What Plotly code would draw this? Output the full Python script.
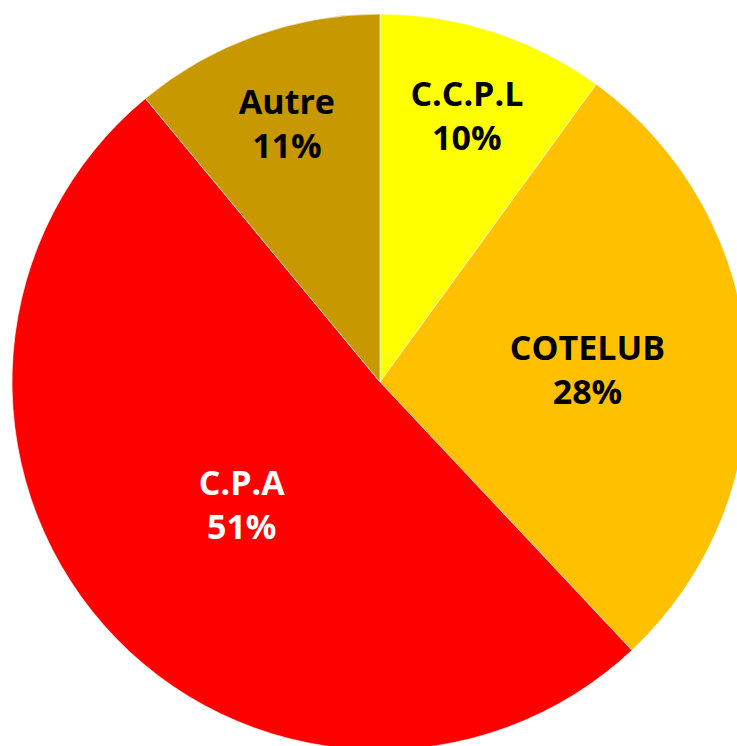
import plotly.graph_objects as go

labels = ["C.C.P.L", "COTELUB", "C.P.A", "Autre"]
values = [10, 28, 51, 11]
colors = ["#FFFF00", "#FFC000", "#FF0000", "#C89800"]
text_colors = ["black", "black", "white", "black"]

W, H = 760, 764
fig = go.Figure(go.Pie(
    labels=labels,
    values=values,
    sort=False,
    direction="clockwise",
    rotation=0,
    marker=dict(colors=colors, line=dict(color="white", width=0.6)),
    textinfo="label+percent",
    texttemplate="<b>%{label}</b><br><b>%{percent:.0%}</b>",
    textposition="inside",
    insidetextorientation="horizontal",
    insidetextfont=dict(family="Open Sans", size=34, color=text_colors),
    domain=dict(x=[12 / W, 748 / W], y=[14 / H, 750 / H]),
    showlegend=False,
    hoverinfo="none",
))
fig.update_layout(
    width=W, height=H,
    margin=dict(l=0, r=0, t=0, b=0),
    paper_bgcolor="white",
    plot_bgcolor="white",
    uniformtext=dict(minsize=34, mode="show"),
)
fig.write_html(
    "out.html",
    config={"displayModeBar": False},
    post_script="document.body.style.margin='0';document.body.style.overflow='hidden';document.documentElement.style.overflow='hidden';",
)
